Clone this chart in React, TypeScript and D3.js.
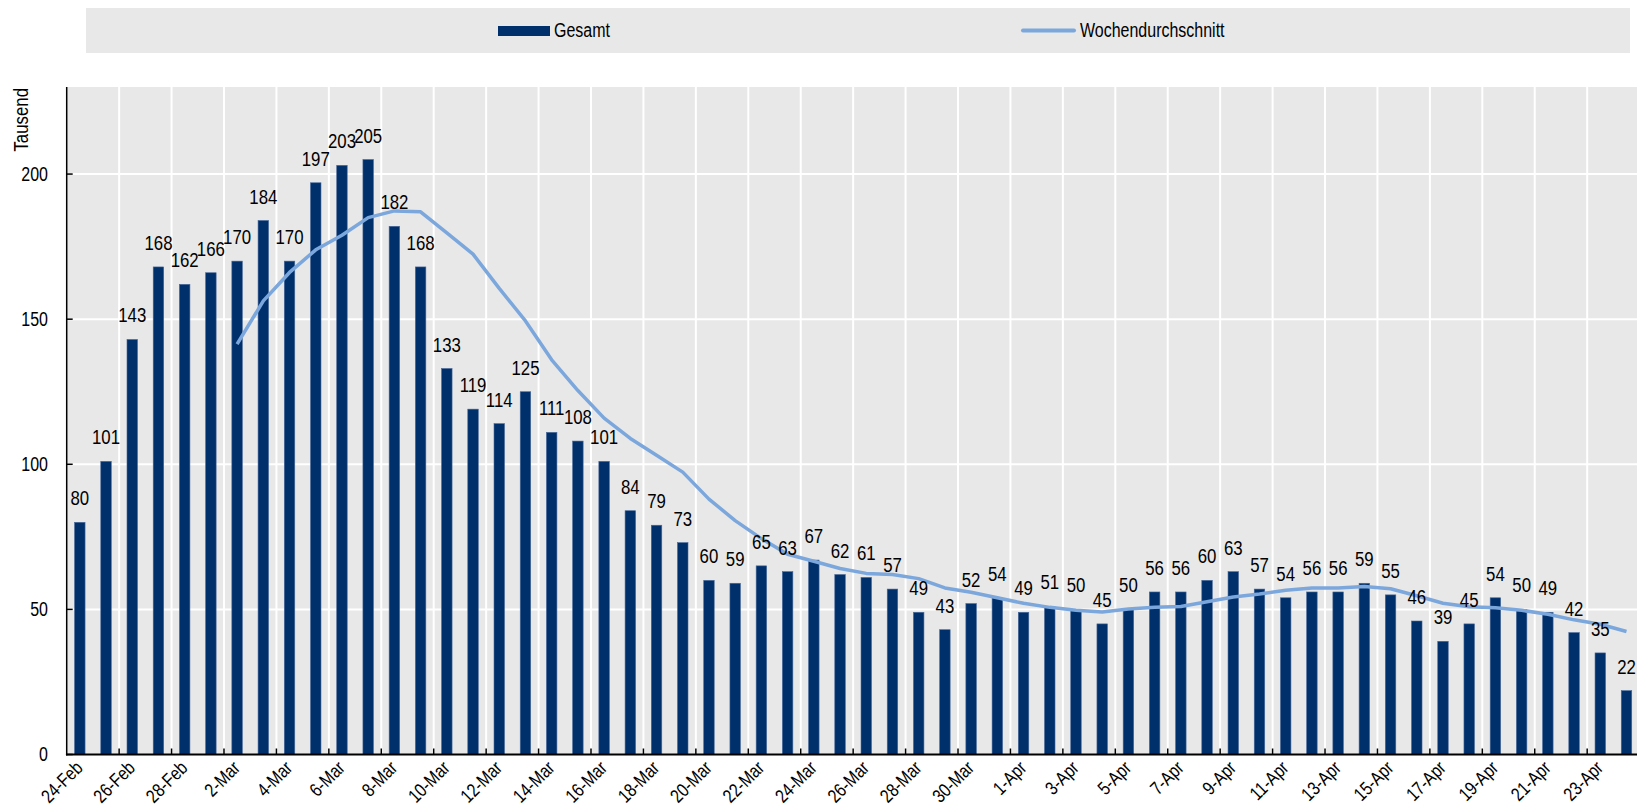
import React, { useEffect, useRef } from 'react'
import * as d3 from 'd3'

const days = [
  '24-Feb', '25-Feb', '26-Feb', '27-Feb', '28-Feb',
  '1-Mar', '2-Mar', '3-Mar', '4-Mar', '5-Mar', '6-Mar', '7-Mar', '8-Mar', '9-Mar', '10-Mar',
  '11-Mar', '12-Mar', '13-Mar', '14-Mar', '15-Mar', '16-Mar', '17-Mar', '18-Mar', '19-Mar', '20-Mar',
  '21-Mar', '22-Mar', '23-Mar', '24-Mar', '25-Mar', '26-Mar', '27-Mar', '28-Mar', '29-Mar', '30-Mar', '31-Mar',
  '1-Apr', '2-Apr', '3-Apr', '4-Apr', '5-Apr', '6-Apr', '7-Apr', '8-Apr', '9-Apr', '10-Apr',
  '11-Apr', '12-Apr', '13-Apr', '14-Apr', '15-Apr', '16-Apr', '17-Apr', '18-Apr', '19-Apr', '20-Apr',
  '21-Apr', '22-Apr', '23-Apr', '24-Apr',
]

// Tausend, taeglich
const gesamt = [
  80, 101, 143, 168, 162, 166, 170, 184, 170, 197, 203, 205, 182, 168, 133,
  119, 114, 125, 111, 108, 101, 84, 79, 73, 60, 59, 65, 63, 67, 62,
  61, 57, 49, 43, 52, 54, 49, 51, 50, 45, 50, 56, 56, 60, 63,
  57, 54, 56, 56, 59, 55, 46, 39, 45, 54, 50, 49, 42, 35, 22,
]

const wochendurchschnitt: (number | null)[] = [
  null, null, null, null, null, null, 141.4, 156.3, 166.1, 173.9, 178.9, 185.0, 187.3, 187.0, 179.7,
  172.4, 160.6, 149.4, 136.0, 125.4, 115.9, 108.9, 103.1, 97.3, 88.0, 80.6, 74.4, 69.0, 66.6, 64.1,
  62.4, 62.0, 60.6, 57.4, 55.9, 54.0, 52.1, 50.7, 49.7, 49.1, 50.1, 50.7, 51.0, 52.6, 54.3,
  55.3, 56.6, 57.4, 57.4, 57.9, 57.1, 54.7, 52.1, 50.9, 50.6, 49.7, 48.3, 46.4, 44.9, 42.4,
]

const yTicks = [0, 50, 100, 150, 200]

// no narrow face installed, so Arial-metric Liberation Sans is squeezed horizontally
const FONT = '"Liberation Sans", Arial, sans-serif'
const NARROW = 'scale(0.82,1)'
const BAR = '#00306b'
const LINE = '#7ba7dc'
const BG = '#e8e8e8'

const App = () => {
  const ref = useRef<SVGSVGElement>(null)

  useEffect(() => {
    const svg = d3.select(ref.current)
    svg.selectAll('*').remove()

    const left = 66.7
    const top = 87
    const bottom = 754.5
    const step = 26.215
    const right = left + days.length * step

    const x = d3.scaleBand()
      .domain(days)
      .range([left, right])
      .paddingInner(0.6)
      .paddingOuter(0.3)
    const cx = (d: string) => (x(d) as number) + x.bandwidth() / 2

    const y = d3.scaleLinear().domain([0, 230]).range([bottom, top])

    // legend
    const lg = svg.append('g')
    lg.append('rect').attr('x', 86).attr('y', 8).attr('width', 1630 - 86).attr('height', 45).attr('fill', BG)
    lg.append('rect').attr('x', 498).attr('y', 26).attr('width', 52).attr('height', 10).attr('fill', BAR)
    lg.append('text').attr('transform', `translate(554, 37) ${NARROW}`).text('Gesamt')
    lg.append('line').attr('x1', 1023).attr('x2', 1074).attr('y1', 30.5).attr('y2', 30.5)
      .attr('stroke', LINE).attr('stroke-width', 4).attr('stroke-linecap', 'round')
    lg.append('text').attr('transform', `translate(1080, 37) ${NARROW}`).text('Wochendurchschnitt')
    lg.selectAll('text').attr('font-size', 19.5).attr('fill', '#000')

    // plot background + grid
    svg.append('rect').attr('x', left).attr('y', top).attr('width', right - left).attr('height', bottom - top).attr('fill', BG)

    svg.append('g').selectAll('line').data(yTicks.slice(1)).join('line')
      .attr('x1', left).attr('x2', right)
      .attr('y1', (d) => y(d)).attr('y2', (d) => y(d))
      .attr('stroke', '#fff').attr('stroke-width', 2)

    const bounds = d3.range(2, days.length, 2).map((i) => left + i * x.step())
    svg.append('g').selectAll('line').data(bounds).join('line')
      .attr('x1', (d) => d).attr('x2', (d) => d)
      .attr('y1', top).attr('y2', bottom)
      .attr('stroke', '#fff').attr('stroke-width', 2)

    // bars
    svg.append('g').selectAll('rect').data(gesamt).join('rect')
      .attr('x', (d, i) => x(days[i]) as number)
      .attr('width', x.bandwidth())
      .attr('y', (d) => y(d))
      .attr('height', (d) => bottom - y(d))
      .attr('fill', BAR)
      .attr('stroke', '#46689a')
      .attr('stroke-width', 0.6)

    // 7-day average
    const line = d3.line<number | null>()
      .defined((d) => d != null)
      .x((d, i) => cx(days[i]))
      .y((d) => y(d as number))
    svg.append('path').datum(wochendurchschnitt)
      .attr('d', line)
      .attr('fill', 'none')
      .attr('stroke', LINE)
      .attr('stroke-width', 3.5)
      .attr('stroke-linejoin', 'round')

    // value labels
    svg.append('g').selectAll('text').data(gesamt).join('text')
      .attr('transform', (d, i) => `translate(${cx(days[i])}, ${y(d) - 17}) ${NARROW}`)
      .attr('text-anchor', 'middle')
      .attr('font-size', 20.5)
      .text((d) => d)

    // axes
    svg.append('line').attr('x1', left).attr('x2', left).attr('y1', top).attr('y2', bottom + 1)
      .attr('stroke', '#000').attr('stroke-width', 1.5)
    svg.append('line').attr('x1', left - 0.75).attr('x2', right).attr('y1', bottom).attr('y2', bottom)
      .attr('stroke', '#000').attr('stroke-width', 2)

    const yAx = svg.append('g')
    yAx.selectAll('line').data(yTicks).join('line')
      .attr('x1', left).attr('x2', left + 6)
      .attr('y1', (d) => y(d)).attr('y2', (d) => y(d))
      .attr('stroke', '#000').attr('stroke-width', 1.5)
    yAx.selectAll('text').data(yTicks).join('text')
      .attr('transform', (d) => `translate(48, ${y(d)}) ${NARROW}`)
      .attr('dy', '0.35em')
      .attr('text-anchor', 'end')
      .attr('font-size', 19.5)
      .text((d) => d)

    svg.append('text')
      .attr('transform', `translate(28, 88) rotate(-90) ${NARROW}`)
      .attr('text-anchor', 'end')
      .attr('font-size', 20.5)
      .text('Tausend')

    const xAx = svg.append('g')
    xAx.selectAll('line').data(bounds).join('line')
      .attr('x1', (d) => d).attr('x2', (d) => d)
      .attr('y1', bottom).attr('y2', bottom - 6)
      .attr('stroke', '#000').attr('stroke-width', 1.5)
    xAx.selectAll('text').data(days.filter((d, i) => i % 2 === 0)).join('text')
      .attr('transform', (d) => `translate(${cx(d) + 4}, 769) rotate(-45) ${NARROW}`)
      .attr('text-anchor', 'end')
      .attr('font-size', 19)
      .text((d) => d)
  }, [])

  return (
    <svg
      ref={ref}
      width={1637}
      height={809}
      style={{ position: 'absolute', left: 0, top: 0, fontFamily: FONT, background: '#fff' }}
    />
  )
}

export default App
